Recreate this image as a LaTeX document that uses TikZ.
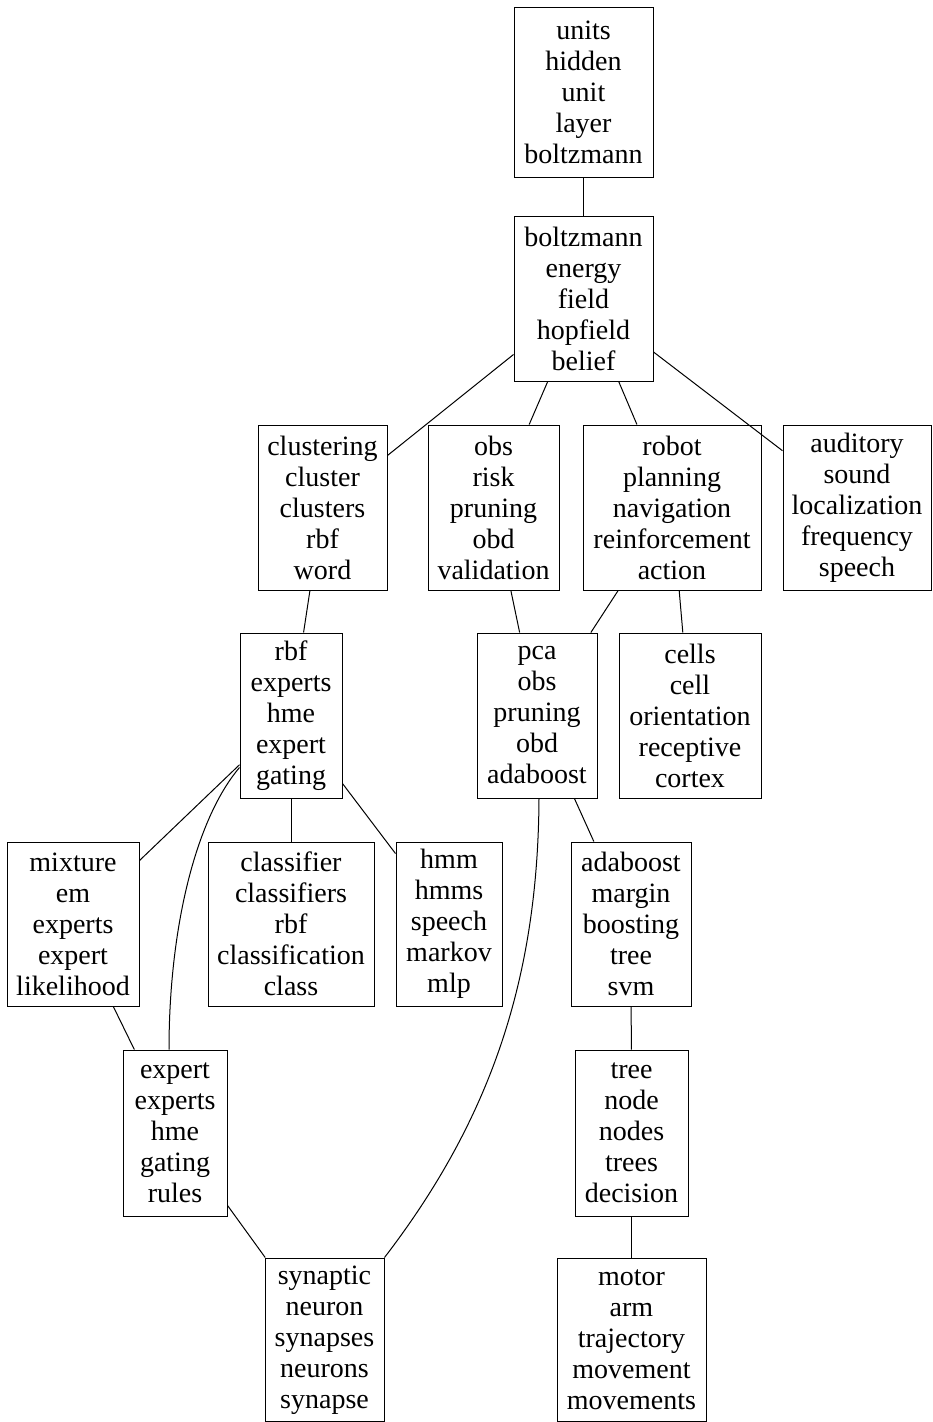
\documentclass[tikz,border=0pt]{standalone}
\usepackage{fontspec}
\setmainfont{Liberation Serif}
\begin{document}
\begin{tikzpicture}[x=1pt,y=-1pt,
  box/.style={draw=black, line width=1pt, inner sep=0pt, align=center, font=\fontsize{28}{31}\selectfont},
  edge/.style={draw=black, line width=1pt}]
\useasboundingbox (0,0) rectangle (932,1422);
\node[box, minimum width=139pt, minimum height=170pt] (n1) at (583.5,92) {units\\hidden\\unit\\layer\\boltzmann};
\node[box, minimum width=139pt, minimum height=165pt] (n2) at (583.5,298.5) {boltzmann\\energy\\field\\hopfield\\belief};
\node[box, minimum width=129pt, minimum height=165pt] (n3) at (322.5,507.5) {clustering\\cluster\\clusters\\rbf\\word};
\node[box, minimum width=131pt, minimum height=165pt] (n4) at (493.5,507.5) {obs\\risk\\pruning\\obd\\validation};
\node[box, minimum width=178pt, minimum height=165pt] (n5) at (672,507.5) {robot\\planning\\navigation\\reinforcement\\action};
\node[box, minimum width=148pt, minimum height=165pt] (n6) at (857,507.5) {auditory\\sound\\localization\\frequency\\speech};
\node[box, minimum width=102pt, minimum height=165pt] (n7) at (291,715.5) {rbf\\experts\\hme\\expert\\gating};
\node[box, minimum width=120pt, minimum height=165pt] (n8) at (537,715.5) {pca\\obs\\pruning\\obd\\adaboost};
\node[box, minimum width=142pt, minimum height=165pt] (n9) at (690,715.5) {cells\\cell\\orientation\\receptive\\cortex};
\node[box, minimum width=132pt, minimum height=164pt] (n10) at (73,924) {mixture\\em\\experts\\expert\\likelihood};
\node[box, minimum width=166pt, minimum height=164pt] (n11) at (291,924) {classifier\\classifiers\\rbf\\classification\\class};
\node[box, minimum width=106pt, minimum height=164pt] (n12) at (449,924) {hmm\\hmms\\speech\\markov\\mlp};
\node[box, minimum width=120pt, minimum height=164pt] (n13) at (631,924) {adaboost\\margin\\boosting\\tree\\svm};
\node[box, minimum width=104pt, minimum height=166pt] (n14) at (175,1133) {expert\\experts\\hme\\gating\\rules};
\node[box, minimum width=113pt, minimum height=166pt] (n15) at (631.5,1133) {tree\\node\\nodes\\trees\\decision};
\node[box, minimum width=119pt, minimum height=163.5pt] (n16) at (324.5,1339.75) {synaptic\\neuron\\synapses\\neurons\\synapse};
\node[box, minimum width=149pt, minimum height=163.5pt] (n17) at (631.5,1339.75) {motor\\arm\\trajectory\\movement\\movements};
\draw[edge] (n1) -- (n2);
\draw[edge] (n2) -- (n3);
\draw[edge] (n2) -- (n4);
\draw[edge] (n2) -- (n5);
\draw[edge] (n2) -- (n6);
\draw[edge] (n3) -- (n7);
\draw[edge] (n4) -- (n8);
\draw[edge] (n5) -- (n8);
\draw[edge] (n5) -- (n9);
\draw[edge] (n7) -- (n10);
\draw[edge] (n7) -- (n11);
\draw[edge] (n7) -- (n12);
\draw[edge] (n8) -- (n13);
\draw[edge] (n10) -- (n14);
\draw[edge] (n14) -- (n16);
\draw[edge] (n13) -- (n15);
\draw[edge] (n15) -- (n17);
\draw[edge] ([yshift=31pt]n7.south west) .. controls (195,820) and (169,930) .. ([xshift=-6pt]n14.north);
\draw[edge] ([xshift=2pt]n8.south) .. controls (538,980) and (490,1120) .. (n16.north east);
\end{tikzpicture}
\end{document}
